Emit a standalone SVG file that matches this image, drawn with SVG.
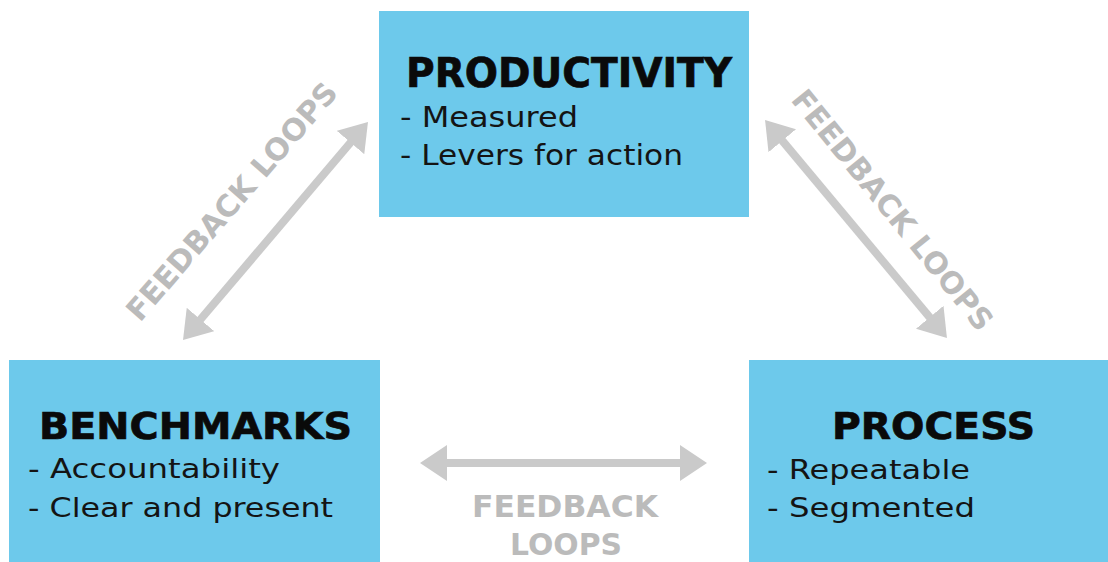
<svg xmlns="http://www.w3.org/2000/svg" width="1108" height="562" viewBox="0 0 1108 562">
  <style>
    .box { fill: #6DC9EB; }
    .head { font-family: "DejaVu Sans", "Liberation Sans", sans-serif; font-weight: bold; fill: #0a0a0a; stroke: #0a0a0a; stroke-width: 0.7; }
    .item { font-family: "DejaVu Sans", "Liberation Sans", sans-serif; fill: #141414; }
    .loop { font-family: "DejaVu Sans", "Liberation Sans", sans-serif; font-weight: bold; fill: #BBBBBB; }
    .link { stroke: #CACACA; stroke-width: 8; fill: none; marker-start: url(#head); marker-end: url(#head); }
  </style>
  <defs>
    <marker id="head" viewBox="0 0 27 36" markerWidth="27" markerHeight="36" refX="6" refY="18"
            markerUnits="userSpaceOnUse" orient="auto-start-reverse">
      <path d="M0,0 L27,18 L0,36 z" fill="#CACACA"/>
    </marker>
  </defs>

  <rect width="1108" height="562" fill="#ffffff"/>

  <!-- two-way feedback connectors with their labels -->
  <g id="connectors">
    <line class="link" x1="196.6" y1="324" x2="354.4" y2="138"/>
    <line class="link" x1="778.5" y1="136.1" x2="933.5" y2="321.9"/>
    <line class="link" x1="441" y1="463" x2="686" y2="463"/>
    <text class="loop" font-size="30" transform="translate(140,323) rotate(-49)" textLength="304" lengthAdjust="spacingAndGlyphs">FEEDBACK LOOPS</text>
    <text class="loop" font-size="30" transform="translate(790,100) rotate(51)" textLength="300" lengthAdjust="spacingAndGlyphs">FEEDBACK LOOPS</text>
    <text class="loop" font-size="30" x="472" y="517" textLength="186" lengthAdjust="spacingAndGlyphs">FEEDBACK</text>
    <text class="loop" font-size="30" x="510" y="555" textLength="112" lengthAdjust="spacingAndGlyphs">LOOPS</text>
  </g>

  <g id="productivity">
    <rect class="box" x="379" y="11" width="370" height="206"/>
    <text class="head" font-size="40" x="406" y="87" textLength="326" lengthAdjust="spacingAndGlyphs">PRODUCTIVITY</text>
    <text class="item" font-size="28" x="400" y="127" textLength="178" lengthAdjust="spacingAndGlyphs">- Measured</text>
    <text class="item" font-size="28" x="400" y="165" textLength="283" lengthAdjust="spacingAndGlyphs">- Levers for action</text>
  </g>

  <g id="benchmarks">
    <rect class="box" x="9" y="360" width="371" height="210"/>
    <text class="head" font-size="38" x="39" y="439" textLength="313" lengthAdjust="spacingAndGlyphs">BENCHMARKS</text>
    <text class="item" font-size="26" x="28" y="478" textLength="252" lengthAdjust="spacingAndGlyphs">- Accountability</text>
    <text class="item" font-size="26" x="28" y="517" textLength="305" lengthAdjust="spacingAndGlyphs">- Clear and present</text>
  </g>

  <g id="process">
    <rect class="box" x="749" y="360" width="365" height="210"/>
    <text class="head" font-size="38" x="832" y="439" textLength="203" lengthAdjust="spacingAndGlyphs">PROCESS</text>
    <text class="item" font-size="26" x="767" y="479" textLength="203" lengthAdjust="spacingAndGlyphs">- Repeatable</text>
    <text class="item" font-size="26" x="767" y="517" textLength="208" lengthAdjust="spacingAndGlyphs">- Segmented</text>
  </g>
</svg>
